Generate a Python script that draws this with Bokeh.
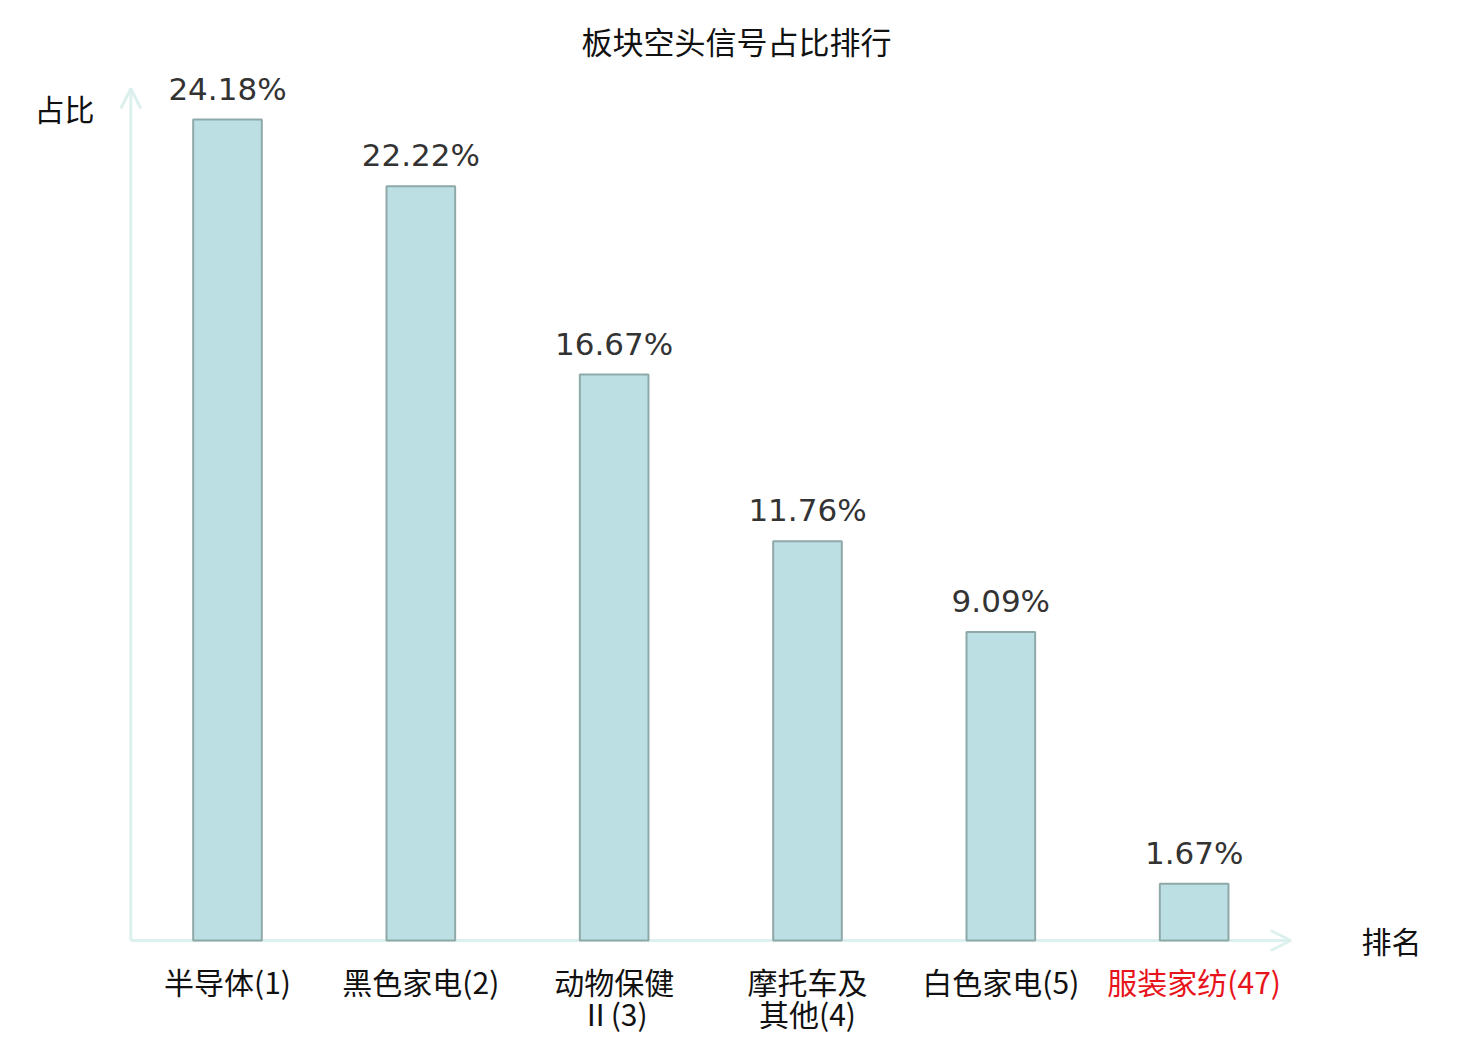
from bokeh.plotting import figure
from bokeh.models import Range1d, Arrow, OpenHead, ColumnDataSource
from bokeh.core.properties import value
from bokeh.embed import file_html
from bokeh.resources import INLINE

# ---- data ----
title_text = "板块空头信号占比排行"
categories = ["半导体(1)", "黑色家电(2)", "动物保健\nⅡ(3)", "摩托车及\n其他(4)", "白色家电(5)", "服装家纺(47)"]
shares = [24.18, 22.22, 16.67, 11.76, 9.09, 1.67]
value_labels = ["24.18%", "22.22%", "16.67%", "11.76%", "9.09%", "1.67%"]
label_colors = ["#111111", "#111111", "#111111", "#111111", "#111111", "#e8141b"]
y_axis_name = "占比"
x_axis_name = "排名"

# ---- layout ----
W, H = 1472, 1040
step = 193.33          # px per category
x0_px = 227.0          # canvas px of first category centre
base_px = 940.0        # canvas px of zero line
unit_px = 33.95        # px per percent

def dx(px):
    return (px - x0_px) / step

def dy(py):
    return (base_px - py) / unit_px

xs = list(range(len(categories)))
line1 = [c.split("\n")[0] for c in categories]
line2 = [c.split("\n")[1] if "\n" in c else "" for c in categories]

p = figure(width=W, height=H, output_backend="svg", toolbar_location=None,
           x_range=Range1d(dx(0), dx(W)), y_range=Range1d(dy(H), dy(0)),
           min_border=0, min_border_left=0, min_border_right=0,
           min_border_top=0, min_border_bottom=0)
p.axis.visible = False
p.grid.visible = False
p.outline_line_color = None
p.background_fill_color = "white"
p.border_fill_color = "white"

axis_col = "#dcf0ee"
x_left = -0.5
x_right = len(categories) - 0.5
ax_x = Arrow(end=OpenHead(size=20, line_color=axis_col, line_width=3),
             x_start=x_left, y_start=0, x_end=x_right, y_end=0,
             line_color=axis_col, line_width=3, level="underlay")
ax_y = Arrow(end=OpenHead(size=20, line_color=axis_col, line_width=3),
             x_start=x_left, y_start=0, x_end=x_left, y_end=dy(88),
             line_color=axis_col, line_width=3, level="underlay")
p.add_layout(ax_x)
p.add_layout(ax_y)

src = ColumnDataSource(dict(x=xs, top=shares, vlab=value_labels,
                            l1=line1, l2=line2, col=label_colors,
                            ylab=[0] * len(xs)))

p.vbar(x="x", top="top", bottom=0, width=0.355, source=src,
       fill_color="#bbdfe2", line_color="#8fa9a9", line_width=2)

p.text(x="x", y="top", text="vlab", source=src, text_align="center",
       text_baseline="alphabetic", y_offset=-31,
       text_font=value("DejaVu Sans"), text_font_size="31px", text_color="#333333")

for col_name, off in (("l1", 40), ("l2", 72)):
    p.text(x="x", y="ylab", text=col_name, source=src, text_align="center",
           text_baseline="middle", y_offset=off,
           text_font=value("Noto Sans CJK SC"), text_font_size="30px", text_color="col")

p.text(x=[(dx(0) + dx(W)) / 2], y=[dy(40)], text=[title_text], text_align="center",
       text_baseline="middle", text_font=value("Noto Sans CJK SC"),
       text_font_size="31px", text_color="#111111")

p.text(x=[dx(64)], y=[dy(107)], text=[y_axis_name], text_align="center",
       text_baseline="middle", text_font=value("Noto Sans CJK SC"),
       text_font_size="30px", text_color="#111111")
p.text(x=[dx(1391)], y=[dy(939)], text=[x_axis_name], text_align="center",
       text_baseline="middle", text_font=value("Noto Sans CJK SC"),
       text_font_size="30px", text_color="#111111")

open("out.html", "w").write(file_html(p, INLINE))
